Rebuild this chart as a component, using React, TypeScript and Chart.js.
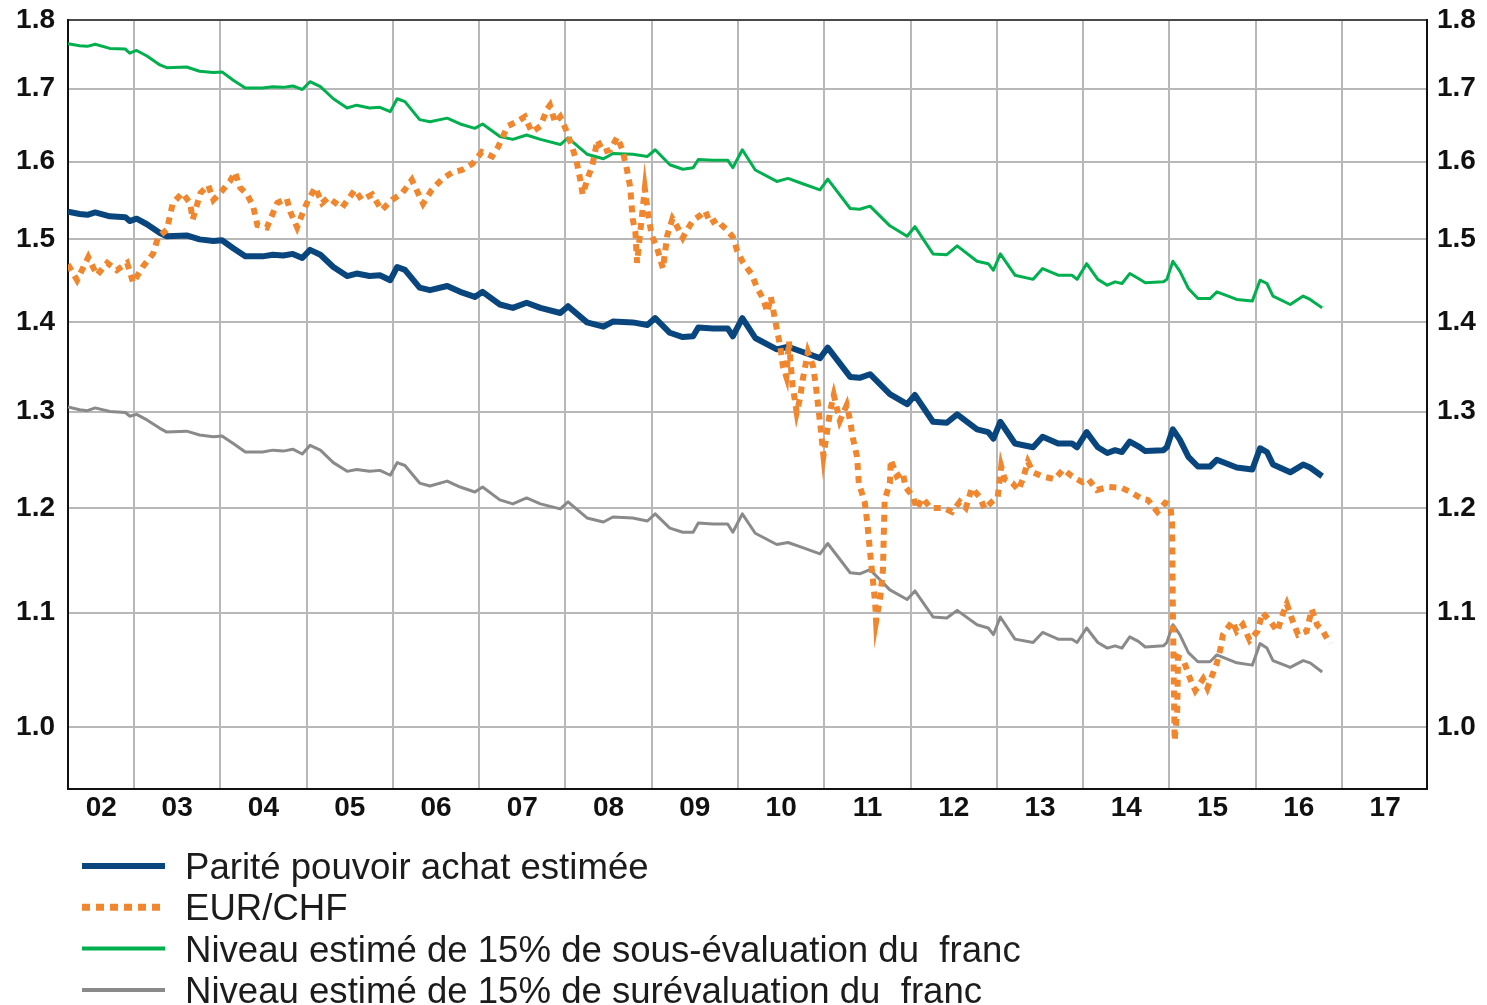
import React, { useEffect, useRef } from 'react';
import { Chart, registerables } from 'chart.js';

Chart.register(...registerables);

// ---- Axis definitions ----
const xMin = 2002.235;
const xMax = 2017.985;
const gridYears = [2003, 2004, 2005, 2006, 2007, 2008, 2009, 2010, 2011, 2012, 2013, 2014, 2015, 2016, 2017];
const yearLabels = ['02', '03', '04', '05', '06', '07', '08', '09', '10', '11', '12', '13', '14', '15', '16', '17'];
const yearLabelPositions = [2002.62, 2003.5, 2004.5, 2005.5, 2006.5, 2007.5, 2008.5, 2009.5, 2010.5, 2011.5, 2012.5, 2013.5, 2014.5, 2015.5, 2016.5, 2017.5];
const yTicks = [1.0, 1.1, 1.2, 1.3, 1.4, 1.5, 1.6, 1.7, 1.8];
const yMin = 0.95;
const yMax = 1.8;

// ---- Series: Parité pouvoir achat estimée ----
const pppDates = [2002.235, 2002.37, 2002.46, 2002.55, 2002.72, 2002.90, 2002.95, 2003.03, 2003.15, 2003.30,
  2003.38, 2003.61, 2003.76, 2003.92, 2004.02, 2004.15, 2004.29, 2004.38, 2004.49, 2004.61,
  2004.73, 2004.84, 2004.95, 2005.04, 2005.16, 2005.31, 2005.47, 2005.58, 2005.73, 2005.85,
  2005.97, 2006.05, 2006.14, 2006.31, 2006.43, 2006.63, 2006.78, 2006.95, 2007.04, 2007.24,
  2007.39, 2007.55, 2007.71, 2007.94, 2008.03, 2008.25, 2008.44, 2008.55, 2008.78, 2008.95,
  2009.04, 2009.21, 2009.36, 2009.48, 2009.54, 2009.71, 2009.88, 2009.94, 2010.05, 2010.20,
  2010.45, 2010.58, 2010.75, 2010.95, 2011.04, 2011.30, 2011.41, 2011.53, 2011.76, 2011.96,
  2012.05, 2012.26, 2012.42, 2012.54, 2012.77, 2012.90, 2012.96, 2013.04, 2013.21, 2013.42,
  2013.53, 2013.71, 2013.87, 2013.93, 2014.04, 2014.17, 2014.28, 2014.37, 2014.45, 2014.54,
  2014.64, 2014.72, 2014.93, 2014.97, 2015.04, 2015.12, 2015.22, 2015.33, 2015.47, 2015.55,
  2015.78, 2015.96, 2016.05, 2016.13, 2016.20, 2016.40, 2016.55, 2016.63, 2016.77];

const pppValues = [1.535, 1.532, 1.531, 1.534, 1.529, 1.528, 1.523, 1.526, 1.519, 1.508,
  1.504, 1.505, 1.500, 1.498, 1.499, 1.489, 1.479, 1.479, 1.479, 1.481,
  1.480, 1.482, 1.477, 1.487, 1.481, 1.466, 1.455, 1.458, 1.455, 1.456,
  1.450, 1.466, 1.4625, 1.441, 1.438, 1.443, 1.436, 1.430, 1.436, 1.421,
  1.417, 1.423, 1.417, 1.411, 1.419, 1.400, 1.395, 1.401, 1.400, 1.397,
  1.405, 1.388, 1.383, 1.384, 1.394, 1.393, 1.393, 1.384, 1.405, 1.382,
  1.369, 1.372, 1.366, 1.359, 1.371, 1.338, 1.337, 1.341, 1.319, 1.308,
  1.318, 1.289, 1.288, 1.297, 1.281, 1.278, 1.271, 1.289, 1.266, 1.262,
  1.273, 1.266, 1.266, 1.262, 1.278, 1.262, 1.256, 1.259, 1.257, 1.268,
  1.263, 1.258, 1.259, 1.262, 1.281, 1.270, 1.252, 1.242, 1.242, 1.249,
  1.241, 1.239, 1.261, 1.257, 1.244, 1.236, 1.244, 1.241, 1.232];

// ---- Series: Niveau estimé de 15% de sous-évaluation du franc ----
const underValues = [1.765, 1.762, 1.761, 1.764, 1.758, 1.757, 1.751, 1.755, 1.747, 1.734,
  1.730, 1.731, 1.725, 1.723, 1.724, 1.712, 1.701, 1.701, 1.701, 1.703,
  1.702, 1.704, 1.699, 1.710, 1.703, 1.686, 1.673, 1.677, 1.673, 1.674,
  1.668, 1.686, 1.682, 1.657, 1.654, 1.659, 1.651, 1.645, 1.651, 1.634,
  1.630, 1.636, 1.630, 1.623, 1.632, 1.610, 1.604, 1.611, 1.610, 1.607,
  1.616, 1.596, 1.590, 1.592, 1.603, 1.602, 1.602, 1.592, 1.616, 1.589,
  1.574, 1.578, 1.571, 1.563, 1.577, 1.539, 1.538, 1.542, 1.517, 1.504,
  1.516, 1.482, 1.481, 1.492, 1.473, 1.470, 1.462, 1.482, 1.456, 1.451,
  1.464, 1.456, 1.456, 1.451, 1.470, 1.451, 1.444, 1.448, 1.446, 1.458,
  1.452, 1.447, 1.448, 1.451, 1.473, 1.461, 1.440, 1.428, 1.428, 1.436,
  1.427, 1.425, 1.450, 1.446, 1.431, 1.421, 1.431, 1.427, 1.417];

// ---- Series: Niveau estimé de 15% de surévaluation du franc ----
const overValues = [1.305, 1.302, 1.301, 1.304, 1.300, 1.299, 1.295, 1.297, 1.291, 1.282,
  1.278, 1.279, 1.275, 1.273, 1.274, 1.266, 1.257, 1.257, 1.257, 1.259,
  1.258, 1.260, 1.255, 1.264, 1.259, 1.246, 1.237, 1.239, 1.237, 1.238,
  1.233, 1.246, 1.243, 1.225, 1.222, 1.227, 1.221, 1.216, 1.221, 1.208,
  1.204, 1.210, 1.204, 1.199, 1.206, 1.190, 1.186, 1.191, 1.190, 1.187,
  1.194, 1.180, 1.176, 1.176, 1.185, 1.184, 1.184, 1.176, 1.194, 1.175,
  1.164, 1.166, 1.161, 1.155, 1.165, 1.137, 1.136, 1.140, 1.121, 1.112,
  1.120, 1.096, 1.095, 1.102, 1.089, 1.086, 1.080, 1.096, 1.076, 1.073,
  1.082, 1.076, 1.076, 1.073, 1.086, 1.073, 1.068, 1.070, 1.068, 1.078,
  1.074, 1.069, 1.070, 1.073, 1.089, 1.080, 1.064, 1.056, 1.056, 1.062,
  1.055, 1.053, 1.072, 1.068, 1.057, 1.051, 1.057, 1.055, 1.047];

// ---- Series: EUR/CHF ----
const eurDates = [2002.235, 2002.34, 2002.47, 2002.57, 2002.69, 2002.80, 2002.92, 2002.99, 2003.10, 2003.22,
  2003.28, 2003.38, 2003.45, 2003.56, 2003.65, 2003.68, 2003.77, 2003.86, 2003.92, 2004.00,
  2004.11, 2004.17, 2004.23, 2004.31, 2004.38, 2004.43, 2004.54, 2004.66, 2004.77, 2004.81,
  2004.89, 2004.96, 2005.02, 2005.10, 2005.18, 2005.25, 2005.41, 2005.56, 2005.64, 2005.76,
  2005.87, 2005.99, 2006.11, 2006.22, 2006.35, 2006.45, 2006.57, 2006.69, 2006.80, 2006.92,
  2007.03, 2007.15, 2007.22, 2007.33, 2007.45, 2007.53, 2007.61, 2007.71, 2007.79, 2007.82,
  2007.88, 2007.94, 2008.01, 2008.08, 2008.13, 2008.17, 2008.20, 2008.26, 2008.31, 2008.37,
  2008.44, 2008.52, 2008.60, 2008.66, 2008.71, 2008.75, 2008.78, 2008.81, 2008.83, 2008.92,
  2008.96, 2009.00, 2009.06, 2009.13, 2009.18, 2009.24, 2009.29, 2009.36, 2009.41, 2009.48,
  2009.56, 2009.62, 2009.68, 2009.76, 2009.81, 2009.87, 2009.94, 2009.99, 2010.06, 2010.16,
  2010.22, 2010.29, 2010.34, 2010.38, 2010.45, 2010.49, 2010.52, 2010.56, 2010.59, 2010.63,
  2010.68, 2010.72, 2010.75, 2010.81, 2010.87, 2010.90, 2010.94, 2010.96, 2010.99, 2011.07,
  2011.11, 2011.18, 2011.26, 2011.30, 2011.33, 2011.38, 2011.40, 2011.47, 2011.50, 2011.53,
  2011.56, 2011.59, 2011.60, 2011.65, 2011.68, 2011.69, 2011.70, 2011.76, 2011.77, 2011.84,
  2011.91, 2011.94, 2012.03, 2012.07, 2012.14, 2012.23, 2012.38, 2012.48, 2012.57, 2012.64,
  2012.71, 2012.80, 2012.86, 2012.94, 2013.01, 2013.05, 2013.09, 2013.18, 2013.25, 2013.30,
  2013.36, 2013.42, 2013.52, 2013.67, 2013.77, 2013.87, 2013.99, 2014.06, 2014.16, 2014.29,
  2014.45, 2014.57, 2014.68, 2014.75, 2014.86, 2014.95, 2015.01, 2015.03, 2015.04, 2015.06,
  2015.09, 2015.10, 2015.16, 2015.24, 2015.30, 2015.39, 2015.44, 2015.51, 2015.55, 2015.59,
  2015.62, 2015.73, 2015.78, 2015.85, 2015.93, 2016.02, 2016.08, 2016.17, 2016.25, 2016.32,
  2016.36, 2016.43, 2016.49, 2016.59, 2016.65, 2016.71, 2016.78, 2016.86];

const eurValues = [1.469, 1.450, 1.478, 1.456, 1.471, 1.462, 1.471, 1.447, 1.466, 1.482,
  1.503, 1.512, 1.546, 1.559, 1.546, 1.525, 1.559, 1.569, 1.550, 1.559,
  1.574, 1.586, 1.566, 1.557, 1.542, 1.518, 1.515, 1.546, 1.552, 1.535,
  1.515, 1.535, 1.550, 1.566, 1.546, 1.553, 1.540, 1.563, 1.550, 1.557,
  1.537, 1.550, 1.559, 1.576, 1.545, 1.563, 1.577, 1.586, 1.589, 1.597,
  1.613, 1.607, 1.620, 1.648, 1.655, 1.661, 1.640, 1.648, 1.672, 1.677,
  1.653, 1.661, 1.642, 1.619, 1.600, 1.577, 1.557, 1.579, 1.594, 1.629,
  1.613, 1.616, 1.633, 1.616, 1.591, 1.567, 1.525, 1.510, 1.471, 1.565,
  1.530, 1.505, 1.490, 1.464, 1.505, 1.526, 1.517, 1.502, 1.512, 1.524,
  1.530, 1.536, 1.520, 1.525, 1.518, 1.512, 1.503, 1.486, 1.471, 1.457,
  1.441, 1.428, 1.412, 1.430, 1.392, 1.372, 1.350, 1.338, 1.378, 1.330,
  1.299, 1.315, 1.335, 1.366, 1.350, 1.330, 1.297, 1.280, 1.253, 1.302,
  1.318, 1.290, 1.307, 1.290, 1.272, 1.252, 1.225, 1.205, 1.184, 1.157,
  1.133, 1.108, 1.092, 1.115, 1.140, 1.175, 1.208, 1.225, 1.249, 1.232,
  1.236, 1.221, 1.211, 1.199, 1.210, 1.200, 1.200, 1.196, 1.206, 1.200,
  1.220, 1.211, 1.199, 1.206, 1.211, 1.242, 1.229, 1.225, 1.218, 1.229,
  1.247, 1.236, 1.232, 1.229, 1.239, 1.232, 1.226, 1.229, 1.218, 1.221,
  1.220, 1.215, 1.209, 1.208, 1.196, 1.205, 1.203, 1.186, 1.100, 0.989,
  1.013, 1.060, 1.058, 1.041, 1.031, 1.041, 1.033, 1.047, 1.055, 1.067,
  1.080, 1.092, 1.083, 1.089, 1.075, 1.083, 1.100, 1.092, 1.083, 1.100,
  1.108, 1.092, 1.080, 1.083, 1.103, 1.089, 1.083, 1.072];

// ---- Legend labels (in display order) ----
const legendLabels = [
  'Parité pouvoir achat estimée',
  'EUR/CHF',
  'Niveau estimé de 15% de sous-évaluation du  franc',
  'Niveau estimé de 15% de surévaluation du  franc',
];

const COLORS = {
  ppp: '#0a467e',
  eur: '#f0862e',
  under: '#00b04f',
  over: '#8a8a8a',
};

const FONT = '"Liberation Sans", Arial, Helvetica, sans-serif';

const toPoints = (dates: number[], values: number[]) => dates.map((d, i) => ({ x: d, y: values[i] }));

const legendPlugin = {
  id: 'bottomLegend',
  afterDraw(chart: any) {
    const ctx = chart.ctx as CanvasRenderingContext2D;
    const items = [
      { color: COLORS.ppp, width: 6, dash: [] as number[] },
      { color: COLORS.eur, width: 7, dash: [8, 6] },
      { color: COLORS.under, width: 4, dash: [] as number[] },
      { color: COLORS.over, width: 4, dash: [] as number[] },
    ];
    ctx.save();
    items.forEach((it, i) => {
      const y = 866 + i * 41.3;
      ctx.beginPath();
      ctx.strokeStyle = it.color;
      ctx.lineWidth = it.width;
      ctx.lineCap = 'butt';
      ctx.setLineDash(it.dash);
      ctx.moveTo(82, y);
      ctx.lineTo(165, y);
      ctx.stroke();
      ctx.setLineDash([]);
      ctx.fillStyle = '#1c1c1c';
      ctx.font = `36.6px ${FONT}`;
      ctx.textBaseline = 'alphabetic';
      ctx.textAlign = 'left';
      ctx.fillText(legendLabels[i], 185, y + 13);
    });
    ctx.restore();
  },
};

export default function App() {
  const canvasRef = useRef<HTMLCanvasElement>(null);

  useEffect(() => {
    document.body.style.margin = '0';
    const canvas = canvasRef.current;
    if (!canvas) return;

    const tickFont = { family: FONT, size: 28, weight: 'bold' as const };

    const fitY = (width: number) => (scale: any) => {
      scale.width = width;
      scale.paddingTop = 0;
      scale.paddingBottom = 0;
    };

    const chart = new Chart(canvas, {
      type: 'line',
      data: {
        datasets: [
          {
            label: legendLabels[1],
            data: toPoints(eurDates, eurValues),
            borderColor: COLORS.eur,
            borderWidth: 6,
            borderDash: [7, 6],
            borderCapStyle: 'butt',
            pointRadius: 0,
            tension: 0,
            fill: false,
            xAxisID: 'x',
            yAxisID: 'y',
          },
          {
            label: legendLabels[0],
            data: toPoints(pppDates, pppValues),
            borderColor: COLORS.ppp,
            borderWidth: 6,
            borderJoinStyle: 'round',
            pointRadius: 0,
            tension: 0,
            fill: false,
            xAxisID: 'x',
            yAxisID: 'y',
          },
          {
            label: legendLabels[2],
            data: toPoints(pppDates, underValues),
            borderColor: COLORS.under,
            borderWidth: 3,
            borderJoinStyle: 'round',
            pointRadius: 0,
            tension: 0,
            fill: false,
            xAxisID: 'x',
            yAxisID: 'y',
          },
          {
            label: legendLabels[3],
            data: toPoints(pppDates, overValues),
            borderColor: COLORS.over,
            borderWidth: 3,
            borderJoinStyle: 'round',
            pointRadius: 0,
            tension: 0,
            fill: false,
            xAxisID: 'x',
            yAxisID: 'y',
          },
        ],
      },
      options: {
        responsive: false,
        animation: false,
        events: [],
        layout: { padding: { top: 20, left: 0, right: 0, bottom: 0 } },
        plugins: {
          legend: { display: false },
          tooltip: { enabled: false },
          title: { display: false },
        },
        scales: {
          x: {
            type: 'linear',
            position: 'bottom',
            min: xMin,
            max: xMax,
            weight: 0,
            afterBuildTicks: (scale: any) => {
              scale.ticks = gridYears.map((v) => ({ value: v }));
            },
            afterFit: (scale: any) => {
              scale.height = 0;
            },
            ticks: { display: false },
            grid: { color: '#b8b8b8', lineWidth: 2, drawTicks: false },
            border: { display: true, color: '#111', width: 2 },
          },
          x2: {
            type: 'linear',
            position: 'bottom',
            min: xMin,
            max: xMax,
            weight: 1,
            afterBuildTicks: (scale: any) => {
              scale.ticks = yearLabelPositions.map((v) => ({ value: v }));
            },
            afterFit: (scale: any) => {
              scale.height = 216;
            },
            ticks: {
              autoSkip: false,
              maxRotation: 0,
              padding: 2,
              color: '#111',
              font: tickFont,
              callback: (_v: any, i: number) => yearLabels[i],
            },
            grid: { display: false, drawTicks: false },
            border: { display: false },
          },
          y: {
            type: 'logarithmic',
            position: 'left',
            min: yMin,
            max: yMax,
            afterBuildTicks: (scale: any) => {
              scale.ticks = yTicks.map((v) => ({ value: v }));
            },
            afterFit: fitY(68),
            ticks: {
              autoSkip: false,
              padding: 13,
              color: '#111',
              font: tickFont,
              callback: (v: any) => Number(v).toFixed(1),
            },
            grid: {
              color: (c: any) => (c.tick && Math.abs(c.tick.value - 1.8) < 1e-6 ? '#4a4a4a' : '#b8b8b8'),
              lineWidth: 2,
              drawTicks: false,
            },
            border: { display: true, color: '#111', width: 2 },
          },
          y2: {
            type: 'logarithmic',
            position: 'right',
            min: yMin,
            max: yMax,
            afterBuildTicks: (scale: any) => {
              scale.ticks = yTicks.map((v) => ({ value: v }));
            },
            afterFit: fitY(60),
            ticks: {
              autoSkip: false,
              padding: 10,
              color: '#111',
              font: tickFont,
              callback: (v: any) => Number(v).toFixed(1),
            },
            grid: { display: false, drawTicks: false },
            border: { display: true, color: '#111', width: 2 },
          },
        },
      },
      plugins: [legendPlugin],
    } as any);

    return () => chart.destroy();
  }, []);

  return (
    <div style={{ width: 1487, height: 1005, background: '#fff' }}>
      <canvas ref={canvasRef} width={1487} height={1005} style={{ display: 'block' }} />
    </div>
  );
}
